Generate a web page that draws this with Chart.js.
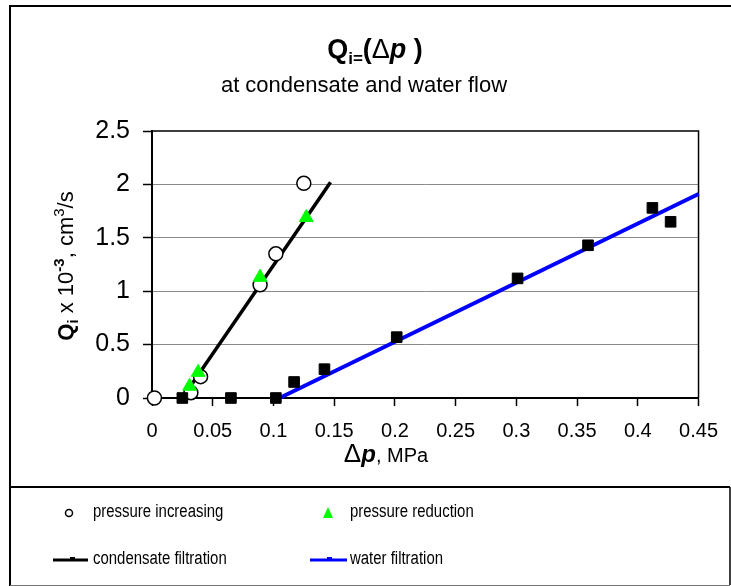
<!DOCTYPE html>
<html>
<head>
<meta charset="utf-8">
<title>Qi=(Δp)</title>
<script src="https://cdn.jsdelivr.net/npm/chart.js@4.4.1/dist/chart.umd.min.js"></script>
<style>
    html, body { margin: 0; padding: 0; background: #fff; }
    canvas { display: block; }
</style>
</head>
<body>
<canvas id="chart" width="731" height="586"></canvas>
<script>
// Measured points (Δp in MPa, Q in 10^-3 cm3/s)
const increasingDp = [0.002, 0.032, 0.040, 0.089, 0.102, 0.125];
const increasingQ  = [0.00, 0.05, 0.20, 1.06, 1.35, 2.01];

const reductionDp = [0.031, 0.038, 0.089, 0.127];
const reductionQ  = [0.11, 0.24, 1.13, 1.69];

const waterDp = [0.025, 0.065, 0.102, 0.117, 0.142, 0.2015, 0.301, 0.359, 0.412, 0.427];
const waterQ  = [0.00, 0.00, 0.00, 0.15, 0.27, 0.57, 1.12, 1.43, 1.78, 1.65];

// Fitted lines
const condensateFitDp = [0.025, 0.147];
const condensateFitQ  = [0.00, 2.02];
const waterFitDp = [0.105, 0.45];
const waterFitQ  = [0.00, 1.91];

const xTickLabels = ['0', '0.05', '0.1', '0.15', '0.2', '0.25', '0.3', '0.35', '0.4', '0.45'];
const yTickLabels = ['0', '0.5', '1', '1.5', '2', '2.5'];

const subtitle = 'at condensate and water flow';
const legendLabels = ['pressure increasing', 'pressure reduction', 'condensate filtration', 'water filtration'];

const FONT = "'Liberation Sans', Arial, sans-serif";

function toPoints(xs, ys) {
    return xs.map((x, i) => ({ x: x, y: ys[i] }));
}

// draws a row of text pieces with different fonts / offsets
function drawRuns(ctx, runs, x, y, align) {
    let total = 0;
    runs.forEach(r => {
        ctx.font = r.font;
        r.w = ctx.measureText(r.text).width;
        total += r.w;
    });
    let cx = align === 'center' ? x - total / 2 : x;
    runs.forEach(r => {
        ctx.font = r.font;
        ctx.fillText(r.text, cx, y + (r.dy || 0));
        cx += r.w;
    });
}

// legend text is a bit condensed in the original
function narrowText(ctx, text, x, y) {
    ctx.save();
    ctx.translate(x, y);
    ctx.scale(0.83, 1);
    ctx.fillText(text, 0, 0);
    ctx.restore();
}

const decorPlugin = {
    id: 'decor',
    beforeDatasetsDraw(chart) {
        const ctx = chart.ctx;
        const a = chart.chartArea;
        ctx.save();
        // plot frame top / right
        ctx.strokeStyle = '#000';
        ctx.lineWidth = 1.5;
        ctx.beginPath();
        ctx.moveTo(a.left, a.top);
        ctx.lineTo(a.right, a.top);
        ctx.lineTo(a.right, a.bottom);
        ctx.stroke();
        ctx.restore();
    },
    afterDraw(chart) {
        const ctx = chart.ctx;
        ctx.save();
        ctx.fillStyle = '#000';
        ctx.textBaseline = 'alphabetic';

        // outer border
        ctx.strokeStyle = '#000';
        ctx.lineWidth = 2;
        ctx.beginPath();
        ctx.moveTo(10, 590);
        ctx.lineTo(10, 6);
        ctx.lineTo(735, 6);
        ctx.stroke();

        // title
        drawRuns(ctx, [
            { text: 'Q', font: 'bold 27px ' + FONT },
            { text: 'i=', font: 'bold 17px ' + FONT, dy: 6 },
            { text: '(', font: 'bold 27px ' + FONT },
            { text: 'Δ', font: '27px ' + FONT },
            { text: 'p', font: 'italic bold 27px ' + FONT },
            { text: ' )', font: 'bold 27px ' + FONT }
        ], 375, 58, 'center');
        ctx.font = '22px ' + FONT;
        ctx.textAlign = 'center';
        ctx.fillText(subtitle, 364, 92);
        ctx.textAlign = 'left';

        // y axis title
        ctx.save();
        ctx.translate(73, 266);
        ctx.rotate(-Math.PI / 2);
        drawRuns(ctx, [
            { text: 'Q', font: 'bold 22px ' + FONT },
            { text: 'i', font: 'bold 15px ' + FONT, dy: 5 },
            { text: ' x 10', font: '22px ' + FONT },
            { text: '-3', font: 'bold 15px ' + FONT, dy: -9 },
            { text: ', cm', font: '22px ' + FONT },
            { text: '3', font: '15px ' + FONT, dy: -9 },
            { text: '/s', font: '22px ' + FONT }
        ], 0, 0, 'center');
        ctx.restore();

        // x axis title
        drawRuns(ctx, [
            { text: 'Δ', font: '26px ' + FONT },
            { text: 'p', font: 'italic bold 24px ' + FONT },
            { text: ', MPa', font: '20px ' + FONT }
        ], 386, 462, 'center');

        // legend box
        ctx.lineWidth = 2;
        ctx.beginPath();
        ctx.moveTo(10, 487);
        ctx.lineTo(730, 487);
        ctx.stroke();
        ctx.lineWidth = 1.5;
        ctx.beginPath();
        ctx.moveTo(730, 487);
        ctx.lineTo(730, 585);
        ctx.stroke();
        ctx.strokeStyle = '#777';
        ctx.lineWidth = 1;
        ctx.beginPath();
        ctx.moveTo(10, 585.5);
        ctx.lineTo(730, 585.5);
        ctx.stroke();

        ctx.font = '18px ' + FONT;
        ctx.textBaseline = 'middle';
        ctx.fillStyle = '#000';
        narrowText(ctx, legendLabels[0], 93, 512);
        narrowText(ctx, legendLabels[1], 350, 512);
        narrowText(ctx, legendLabels[2], 93, 559);
        narrowText(ctx, legendLabels[3], 350, 559);

        // legend markers
        ctx.strokeStyle = '#000';
        ctx.lineWidth = 1.5;
        ctx.beginPath();
        ctx.arc(69, 513, 3.5, 0, Math.PI * 2);
        ctx.stroke();

        ctx.fillStyle = '#00ff00';
        ctx.beginPath();
        ctx.moveTo(328, 507);
        ctx.lineTo(333, 518);
        ctx.lineTo(323, 518);
        ctx.closePath();
        ctx.fill();

        ctx.lineWidth = 3;
        ctx.strokeStyle = '#000';
        ctx.beginPath();
        ctx.moveTo(53, 560);
        ctx.lineTo(88, 560);
        ctx.stroke();
        ctx.fillStyle = '#000';
        ctx.fillRect(70, 557, 5, 2);

        ctx.strokeStyle = '#0000ff';
        ctx.beginPath();
        ctx.moveTo(310, 560);
        ctx.lineTo(347, 560);
        ctx.stroke();
        ctx.fillStyle = '#0000ff';
        ctx.fillRect(327, 557, 5, 2);

        ctx.restore();
    }
};

const ctx = document.getElementById('chart').getContext('2d');

new Chart(ctx, {
    type: 'scatter',
    data: {
        datasets: [
            {
                label: 'condensate filtration',
                data: toPoints(condensateFitDp, condensateFitQ),
                showLine: true,
                borderColor: '#000',
                borderWidth: 3.5,
                pointRadius: 0,
                clip: false,
                order: 5
            },
            {
                label: 'water filtration',
                data: toPoints(waterFitDp, waterFitQ),
                showLine: true,
                borderColor: '#0000ff',
                borderWidth: 4,
                pointRadius: 0,
                clip: false,
                order: 4
            },
            {
                label: 'pressure increasing',
                data: toPoints(increasingDp, increasingQ),
                pointStyle: 'circle',
                pointRadius: 7,
                backgroundColor: '#fff',
                borderColor: '#000',
                borderWidth: 1.5,
                clip: false,
                order: 3
            },
            {
                label: 'water data',
                data: toPoints(waterDp, waterQ),
                pointStyle: 'rect',
                pointRadius: 7.5,
                backgroundColor: '#000',
                borderColor: '#000',
                borderWidth: 1,
                clip: false,
                order: 2
            },
            {
                label: 'pressure reduction',
                data: toPoints(reductionDp, reductionQ),
                pointStyle: 'triangle',
                pointRadius: 8,
                backgroundColor: '#00ff00',
                borderColor: '#00ff00',
                borderWidth: 1,
                clip: false,
                order: 1
            }
        ]
    },
    options: {
        responsive: false,
        animation: false,
        devicePixelRatio: 1,
        layout: {
            padding: { left: 0, top: 131, right: 32, bottom: 146 }
        },
        plugins: {
            legend: { display: false },
            tooltip: { enabled: false },
            title: { display: false }
        },
        scales: {
            x: {
                type: 'linear',
                min: 0,
                max: 0.45,
                border: { color: '#000', width: 2 },
                grid: {
                    drawOnChartArea: false,
                    tickColor: '#000',
                    tickLength: 8,
                    tickWidth: 1.5
                },
                ticks: {
                    stepSize: 0.05,
                    color: '#000',
                    padding: 13,
                    font: { family: FONT, size: 20 },
                    maxRotation: 0,
                    autoSkip: false,
                    callback: (v, i) => xTickLabels[i]
                },
                afterFit: scale => { scale.height = 42; }
            },
            y: {
                type: 'linear',
                min: 0,
                max: 2.5,
                border: { color: '#000', width: 2 },
                grid: {
                    color: ctx => (ctx.tick && (ctx.tick.value === 0 || ctx.tick.value === 2.5)) ? 'rgba(0,0,0,0)' : '#8a8a8a',
                    lineWidth: 1,
                    tickColor: '#000',
                    tickLength: 9,
                    tickWidth: 1.5
                },
                ticks: {
                    stepSize: 0.5,
                    color: '#000',
                    padding: 13,
                    font: { family: FONT, size: 25 },
                    callback: (v, i) => yTickLabels[i]
                },
                afterFit: scale => { scale.width = 152; }
            }
        }
    },
    plugins: [decorPlugin]
});
</script>
</body>
</html>
